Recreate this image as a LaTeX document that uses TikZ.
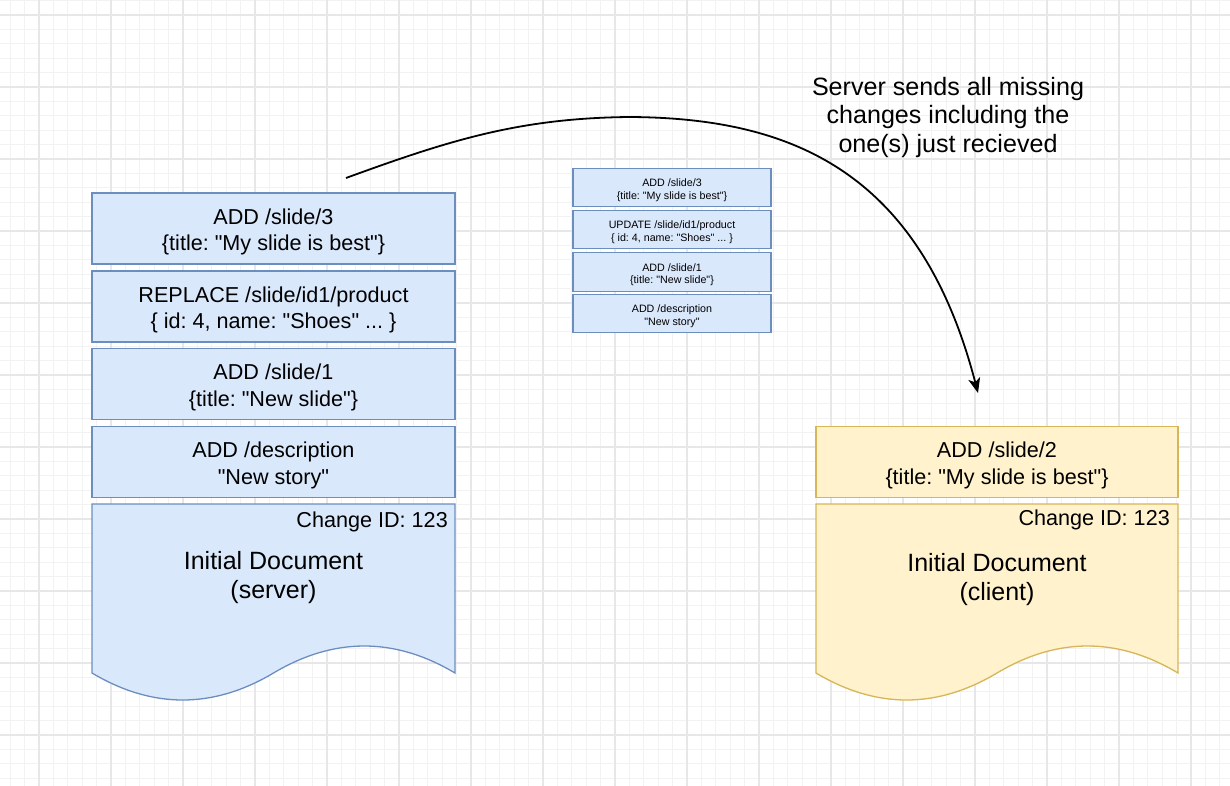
\documentclass[tikz,border=0pt]{standalone}
\usepackage{fontspec}
\setmainfont{Liberation Sans}[Ligatures=TeXOff]
\usetikzlibrary{arrows.meta}
\frenchspacing
\newcommand\hitop{\rule{0pt}{1.02em}}
\newcommand\hitopsm{\rule{0pt}{1.25em}}
\definecolor{bfill}{HTML}{DAE8FC}
\definecolor{bline}{HTML}{6C8EBF}
\definecolor{yfill}{HTML}{FFF2CC}
\definecolor{yline}{HTML}{D6B656}
\definecolor{gminor}{HTML}{F2F2F3}
\definecolor{gmajor}{HTML}{E7E7E9}
\tikzset{
  minorline/.style={gminor, line width=1pt},
  majorline/.style={gmajor, line width=1.1pt},
  bigbox/.style={draw=bline, fill=bfill, line width=1.3pt, minimum width=363pt, minimum height=71pt, inner sep=0pt, align=center, font=\fontsize{21.6}{26.5}\selectfont},
  ybox/.style={bigbox, draw=yline, fill=yfill, minimum width=362pt},
  smallbox/.style={draw=bline, fill=bfill, line width=1.1pt, minimum width=198pt, minimum height=38.5pt, inner sep=0pt, align=center, font=\fontsize{10.7}{12.3}\selectfont},
  bdoc/.style={draw=bline, fill=bfill, line width=1.3pt},
  ydoc/.style={draw=yline, fill=yfill, line width=1.3pt},
  idtext/.style={inner sep=0pt, anchor=east, font=\fontsize{21.6}{26}\selectfont},
  doctitle/.style={inner sep=0pt, align=center, font=\fontsize{25}{29}\selectfont},
  calltext/.style={inner sep=0pt, align=center, font=\fontsize{25.1}{28.3}\selectfont},
  curvearrow/.style={line width=1.8pt, -{Stealth[length=15pt, width=12pt, inset=4pt]}},
}
\begin{document}
\begin{tikzpicture}[x=1pt, y=-1pt]
\useasboundingbox (0,0) rectangle (1230,786);
\fill[white] (0,0) rectangle (1230,786);
% grid
\begin{scope}
\clip (0,0) rectangle (1230,786);
\foreach \i in {-3,...,86} {
  \pgfmathsetmacro\xx{39+14.4*\i}
  \draw[minorline] (\xx,0) -- (\xx,786);
}
\foreach \i in {-2,...,55} {
  \pgfmathsetmacro\yy{15+14.4*\i}
  \draw[minorline] (0,\yy) -- (1230,\yy);
}
\foreach \i in {-1,...,17} {
  \pgfmathsetmacro\xx{39+72*\i}
  \draw[majorline] (\xx,0) -- (\xx,786);
}
\foreach \i in {-1,...,11} {
  \pgfmathsetmacro\yy{15+72*\i}
  \draw[majorline] (0,\yy) -- (1230,\yy);
}
\end{scope}

% left stack (server)
\node[bigbox] (l1) at (273.5,228.5) {\hitop ADD /slide/3\\\{title: "My slide is best"\}};
\node[bigbox] (l2) at (273.5,306.5) {\hitop REPLACE /slide/id1/product\\\{ id: 4, name: "Shoes" ... \}};
\node[bigbox] (l3) at (273.5,384) {\hitop ADD /slide/1\\\{title: "New slide"\}};
\node[bigbox] (l4) at (273.5,462) {\hitop ADD /description\\"New story"};
\draw[bdoc] (92,504) -- (455,504) -- (455,673)
  .. controls (394.5,637) and (334,637) .. (273.5,673)
  .. controls (213,709) and (152.5,709) .. (92,673) -- cycle;
\node[idtext] (lid) at (448,521.5) {Change ID: 123};
\node[doctitle] (ltitle) at (273.5,578) {Initial Document\\(server)};

% middle small stack
\node[smallbox] (m1) at (672,187.5) {\hitopsm ADD /slide/3\\\{title: "My slide is best"\}};
\node[smallbox] (m2) at (672,229.5) {\hitopsm UPDATE /slide/id1/product\\\{ id: 4, name: "Shoes" ... \}};
\node[smallbox] (m3) at (672,272) {\hitopsm ADD /slide/1\\\{title: "New slide"\}};
\node[smallbox] (m4) at (672,313.5) {\hitopsm ADD /description\\"New story"};

% right stack (client)
\node[ybox] (r1) at (997,462) {\hitop ADD /slide/2\\\{title: "My slide is best"\}};
\draw[ydoc] (816,504) -- (1178,504) -- (1178,673)
  .. controls (1117.7,637) and (1057.3,637) .. (997,673)
  .. controls (936.7,709) and (876.3,709) .. (816,673) -- cycle;
\node[idtext] (rid) at (1170,519.5) {Change ID: 123};
\node[doctitle] (rtitle) at (997,579.5) {Initial Document\\(client)};

% callout text
\node[calltext] (call) at (948,117.5) {Server sends all missing\\changes including the\\one(s) just recieved};

% curved arrow
\coordinate (as) at (346,178);
\coordinate (am) at (630,117);
\coordinate (at) at (978,393);
\draw[curvearrow] (as) .. controls (450,140) and (520,118) .. (am)
  .. controls (790,118) and (920,170) .. (at);
\end{tikzpicture}
\end{document}
